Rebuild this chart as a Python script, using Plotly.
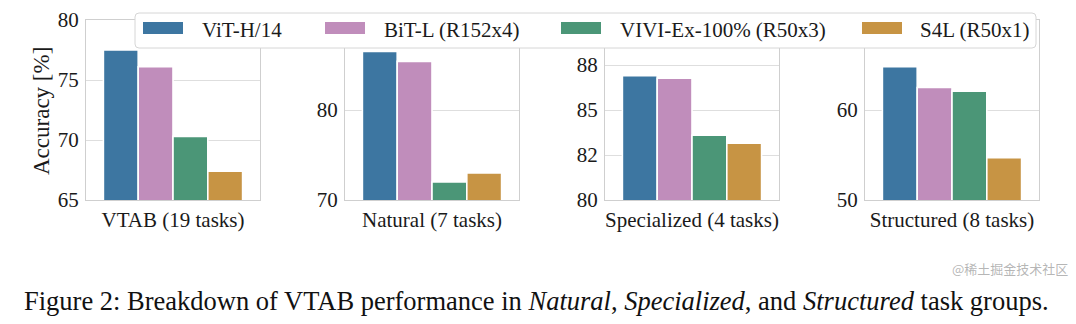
import plotly.graph_objects as go

# ---------------- data ----------------
groups = ["VTAB (19 tasks)", "Natural (7 tasks)", "Specialized (4 tasks)", "Structured (8 tasks)"]
series = ["ViT-H/14", "BiT-L (R152x4)", "VIVI-Ex-100% (R50x3)", "S4L (R50x1)"]
vit_h14 = [77.5, 86.5, 86.9, 64.8]
bit_l = [76.1, 85.4, 86.76, 62.5]
vivi_ex = [70.3, 72.0, 83.6, 62.1]
s4l = [67.4, 73.0, 83.15, 54.7]
y_ranges = [[65, 80], [70, 90], [80, 90], [50, 70]]
tick_vals = [[65, 70, 75, 80], [70, 80], [80, 82.5, 85, 87.5], [50, 60]]
tick_text = [["65", "70", "75", "80"], ["70", "80"], ["80", "82", "85", "88"], ["50", "60"]]
y_title = "Accuracy [%]"
caption = ("Figure 2: Breakdown of VTAB performance in <i>Natural</i>, "
           "<i>Specialized</i>, and <i>Structured</i> task groups.")
watermark = "@稀土掘金技术社区"

# ---------------- style ----------------
W, H = 1076, 324
colors = ["#3d76a1", "#c08dbb", "#4b9677", "#c79444"]
FONT = "Liberation Serif, Times New Roman, serif"
TXT = "#1a1a1a"
GRID = "#dedede"
SPINE = "#cfcfcf"
FS = 21

def px(x):
    return x / W

def py(y):
    return 1 - y / H

panel_x = [(86, 260), (345, 519), (605, 779), (865, 1039)]
plot_top, plot_bot = 20, 200

values = [vit_h14, bit_l, vivi_ex, s4l]

fig = go.Figure()
for j, g in enumerate(groups):
    ax = "" if j == 0 else str(j + 1)
    for i, name in enumerate(series):
        fig.add_trace(go.Bar(
            x=[g], y=[values[i][j]], name=name,
            marker=dict(color=colors[i], line=dict(color="white", width=1.6)),
            xaxis="x" + ax, yaxis="y" + ax, showlegend=False,
            offsetgroup=str(i),
        ))

layout = dict(
    width=W, height=H,
    margin=dict(l=0, r=0, t=0, b=0, pad=0),
    paper_bgcolor="white", plot_bgcolor="white",
    barmode="group", bargap=0.2, bargroupgap=0,
    font=dict(family=FONT, color=TXT, size=FS),
    showlegend=False,
)
for j in range(4):
    ax = "" if j == 0 else str(j + 1)
    x0, x1 = panel_x[j]
    layout["xaxis" + ax] = dict(
        domain=[px(x0), px(x1)], anchor="y" + ax, range=[-0.5, 0.5],
        showline=True, mirror=True, linecolor=SPINE, linewidth=1,
        showgrid=False, ticks="", tickfont=dict(family=FONT, size=FS, color=TXT),
        ticklabelstandoff=1, automargin=False, fixedrange=True,
    )
    layout["yaxis" + ax] = dict(
        domain=[py(plot_bot), py(plot_top)], anchor="x" + ax, range=y_ranges[j],
        showline=True, mirror=True, linecolor=SPINE, linewidth=1,
        showgrid=True, gridcolor=GRID, gridwidth=1, zeroline=False,
        tickvals=tick_vals[j], ticktext=tick_text[j], ticks="",
        tickfont=dict(family=FONT, size=FS, color=TXT), ticklabelstandoff=2,
        automargin=False,
    )
fig.update_layout(**layout)

# ---------------- legend (custom, matplotlib style) ----------------
lx0, lx1, ly0, ly1, r = 135, 1036, 13, 48, 4
path = (f"M {px(lx0+r)},{py(ly0)} L {px(lx1-r)},{py(ly0)} Q {px(lx1)},{py(ly0)} {px(lx1)},{py(ly0+r)} "
        f"L {px(lx1)},{py(ly1-r)} Q {px(lx1)},{py(ly1)} {px(lx1-r)},{py(ly1)} "
        f"L {px(lx0+r)},{py(ly1)} Q {px(lx0)},{py(ly1)} {px(lx0)},{py(ly1-r)} "
        f"L {px(lx0)},{py(ly0+r)} Q {px(lx0)},{py(ly0)} {px(lx0+r)},{py(ly0)} Z")
shapes = [dict(type="path", path=path, xref="paper", yref="paper",
               fillcolor="white", line=dict(color="#d6d6d6", width=1), layer="above")]
swatch_x = [143, 325, 561, 862]
text_x = [200, 382, 618, 918]
annotations = []
for i, name in enumerate(series):
    shapes.append(dict(type="rect", xref="paper", yref="paper",
                       x0=px(swatch_x[i]), x1=px(swatch_x[i] + 40), y0=py(34), y1=py(22),
                       fillcolor=colors[i], line=dict(width=0), layer="above"))
    annotations.append(dict(text=name, x=px(text_x[i]), y=py(30), xref="paper", yref="paper",
                            xanchor="left", yanchor="middle", showarrow=False,
                            font=dict(family=FONT, size=FS, color=TXT)))

annotations.append(dict(text=y_title, x=px(42), y=py(111), xref="paper", yref="paper",
                        textangle=-90, xanchor="center", yanchor="middle", showarrow=False,
                        font=dict(family=FONT, size=23, color=TXT)))
annotations.append(dict(text=caption, x=px(22), y=py(301), xref="paper", yref="paper",
                        xanchor="left", yanchor="middle", showarrow=False,
                        font=dict(family=FONT, size=26.5, color="#111111")))
annotations.append(dict(text=watermark, x=px(1070), y=py(268), xref="paper", yref="paper",
                        xanchor="right", yanchor="middle", showarrow=False,
                        font=dict(family="Noto Sans CJK SC", size=13, color="rgba(150,150,150,0.7)")))

fig.update_layout(shapes=shapes, annotations=annotations)
fig.write_html("out.html")
